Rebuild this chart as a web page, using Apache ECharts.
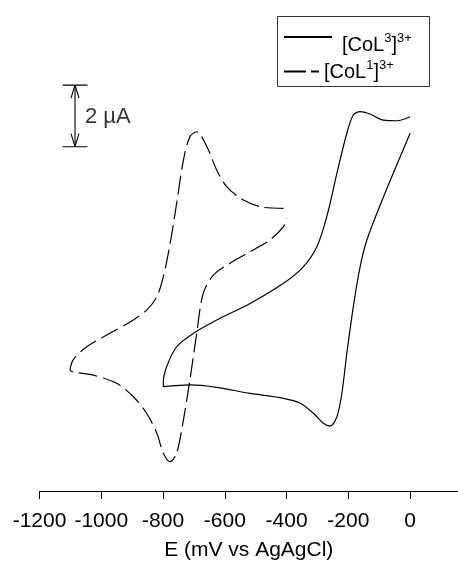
<!DOCTYPE html>
<html>
<head>
<meta charset="utf-8">
<script src="https://cdn.jsdelivr.net/npm/echarts@6/dist/echarts.min.js"></script>
<style>
html,body{margin:0;padding:0;background:#fff;}
#chart{width:458px;height:567px;}
</style>
</head>
<body>
<div id="chart"></div>
<script>
// Potential (mV vs Ag/AgCl) and current (µA, arbitrary offset)
const solidE = [0, -86, -140, -162, -184, -205, -221, -237, -259, -281, -313, -356, -410, -518, -626, -713, -799,
  -799, -788, -756, -702, -626, -518, -410, -346, -302, -270, -237, -205, -184, -162, -130, -86, -43, 0];
const solidI = [1.73, -0.35, -1.77, -2.65, -3.96, -5.49, -6.80, -7.56, -7.87, -7.78, -7.45, -7.12, -6.96, -6.80, -6.60, -6.52, -6.58,
  -6.42, -5.92, -5.27, -4.83, -4.39, -3.85, -3.19, -2.65, -1.99, -1.01, 0.42, 1.73, 2.33, 2.44, 2.36, 2.16, 2.14, 2.27];

const dashedE = [-410, -475, -540, -594, -626, -658, -691, -713, -734, -756, -777, -799, -820, -853, -896, -972, -1047, -1091, -1101,
  -1026, -950, -896, -853, -820, -799, -777, -756, -734, -713, -691, -670, -637, -583, -518, -454, -410, -399];
const dashedI = [-0.73, -0.70, -0.46, -0.02, 0.52, 1.29, 1.78, 1.62, 0.85, -0.57, -1.88, -2.97, -3.63, -4.07, -4.39, -4.83, -5.27, -5.70, -6.03,
  -6.20, -6.47, -6.91, -7.45, -8.11, -8.76, -9.04, -8.76, -7.67, -6.36, -4.83, -3.52, -2.92, -2.53, -2.15, -1.77, -1.33, -1.06];

const seriesNames = ['[CoL3]3+', '[CoL1]3+'];
const tickValues = [-1200, -1000, -800, -600, -400, -200, 0];

// 2 µA scale bar
const scaleBarE = -1085;
const scaleBarLow = 1.29;
const scaleBarHigh = 3.31;
const scaleBarLabel = '2 µA';

const zip = (xs, ys) => xs.map((x, i) => [x, ys[i]]);
const font = '"Liberation Sans", Arial, Helvetica, sans-serif';

const capHalf = 40, armDx = 13, armDy = 0.43;
const barLine = (data) => ({
  type: 'line', data, symbol: 'none', silent: true,
  lineStyle: { color: '#000', width: 1.1 }, z: 3
});

const chart = echarts.init(document.getElementById('chart'), null, { renderer: 'canvas' });
chart.setOption({
  animation: false,
  backgroundColor: '#fff',
  grid: { left: 39.5, right: 0, top: 0, bottom: 76, containLabel: false },
  xAxis: {
    type: 'value', min: -1200, max: 155,
    name: 'E (mV vs AgAgCl)', nameLocation: 'middle', nameGap: 49,
    nameTextStyle: { fontSize: 21, color: '#000', fontFamily: font },
    axisLine: { show: true, onZero: false, lineStyle: { color: '#000', width: 1 } },
    axisTick: { show: true, inside: false, length: 8, customValues: tickValues, lineStyle: { color: '#000' } },
    axisLabel: { customValues: tickValues, fontSize: 21, color: '#000', fontFamily: font, margin: 20,
      formatter: (v) => String(v) },
    splitLine: { show: false }
  },
  yAxis: {
    type: 'value', min: -10, max: 6.1, show: false,
    splitLine: { show: false }
  },
  graphic: [{
    type: 'rect', left: 275, top: 14, shape: { width: 152, height: 70 },
    style: { fill: 'none', stroke: '#333', lineWidth: 1 }
  }],
  legend: [{
    data: [seriesNames[0]], left: 283, top: 31.5, padding: 0, itemWidth: 48, itemHeight: 10, selectedMode: false,
    itemStyle: { opacity: 0 },
    formatter: () => '[CoL{s|3}]{s|3+}',
    textStyle: { fontSize: 20, color: '#000', fontFamily: font, padding: [16, 0, 0, 5],
      rich: { s: { fontSize: 13, fontFamily: font, color: '#000', padding: [0, 0, 14, 0] } } }
  }, {
    data: [seriesNames[1]], left: 283, top: 59, padding: 0, itemWidth: 35, itemHeight: 10, selectedMode: false,
    itemStyle: { opacity: 0 },
    formatter: () => '[CoL{s|1}]{s|3+}',
    lineStyle: { type: [22, 5] },
    textStyle: { fontSize: 20, color: '#000', fontFamily: font, padding: [2, 0, 0, 0],
      rich: { s: { fontSize: 13, fontFamily: font, color: '#000', padding: [0, 0, 14, 0] } } }
  }],
  series: [
    {
      name: seriesNames[0], type: 'line', data: zip(solidE, solidI), symbol: 'none', smooth: 0.3,
      itemStyle: { color: '#000' },
      lineStyle: { color: '#000', width: 1.2 }
    },
    {
      name: seriesNames[1], type: 'line', data: zip(dashedE, dashedI), symbol: 'none', smooth: 0.3,
      itemStyle: { color: '#000' },
      lineStyle: { color: '#000', width: 1.2, type: [19, 6] }
    },
    barLine([[scaleBarE, scaleBarLow], [scaleBarE, scaleBarHigh]]),
    barLine([[scaleBarE - capHalf, scaleBarHigh], [scaleBarE + capHalf, scaleBarHigh]]),
    barLine([[scaleBarE - capHalf, scaleBarLow], [scaleBarE + capHalf, scaleBarLow]]),
    barLine([[scaleBarE - armDx, scaleBarHigh - armDy], [scaleBarE, scaleBarHigh], [scaleBarE + armDx, scaleBarHigh - armDy]]),
    barLine([[scaleBarE - armDx, scaleBarLow + armDy], [scaleBarE, scaleBarLow], [scaleBarE + armDx, scaleBarLow + armDy]]),
    {
      type: 'scatter', data: [[scaleBarE + 32, (scaleBarLow + scaleBarHigh) / 2 - 0.05]], symbolSize: 0,
      itemStyle: { color: '#000' }, silent: true,
      label: { show: true, position: 'right', distance: 0, formatter: scaleBarLabel,
        fontSize: 22, color: '#000', fontFamily: font }
    }
  ]
});
</script>
</body>
</html>
